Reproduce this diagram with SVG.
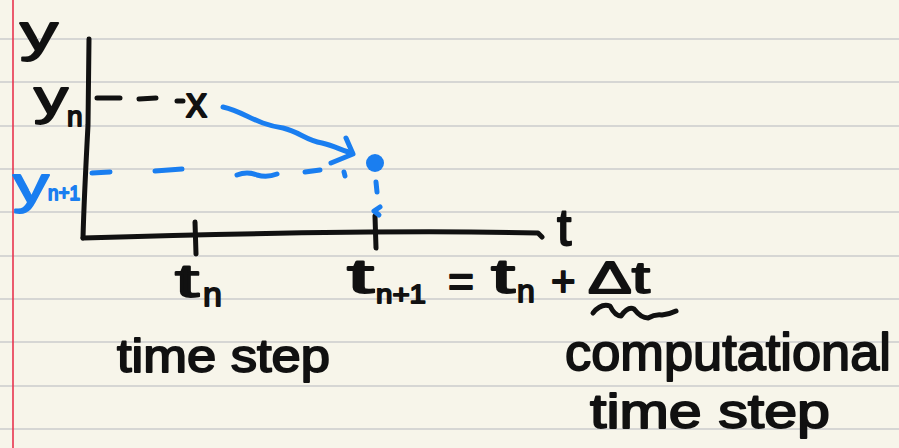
<svg xmlns="http://www.w3.org/2000/svg" width="899" height="448" viewBox="0 0 899 448">
<style>
.rule{stroke:#d6d6d4;stroke-width:2}
.ink{fill:none;stroke:#111;stroke-width:5;stroke-linecap:round;stroke-linejoin:round}
.blue{fill:none;stroke:#1a7ef0;stroke-width:5;stroke-linecap:round;stroke-linejoin:round}
.hw{font-family:"Liberation Sans","Noto Sans",sans-serif;fill:#111;stroke:#111;stroke-width:1.8;stroke-linejoin:round}
.hwb{font-family:"Liberation Sans","Noto Sans",sans-serif;fill:#1a7ef0;stroke:#1a7ef0;stroke-width:1.8;stroke-linejoin:round}
</style>
<rect width="899" height="448" fill="#f7f5ea"/>
<g id="paper">
<line class="rule" x1="0" y1="39" x2="899" y2="39"/>
<line class="rule" x1="0" y1="82" x2="899" y2="82"/>
<line class="rule" x1="0" y1="126" x2="899" y2="126"/>
<line class="rule" x1="0" y1="169" x2="899" y2="169"/>
<line class="rule" x1="0" y1="212" x2="899" y2="212"/>
<line class="rule" x1="0" y1="256" x2="899" y2="256"/>
<line class="rule" x1="0" y1="299" x2="899" y2="299"/>
<line class="rule" x1="0" y1="342" x2="899" y2="342"/>
<line class="rule" x1="0" y1="386" x2="899" y2="386"/>
<line class="rule" x1="0" y1="429" x2="899" y2="429"/>
<line x1="13" y1="0" x2="13" y2="448" stroke="#e8344e" stroke-width="1.6"/>
</g>
<g id="axes">
<path class="ink" d="M89 39 L88 125 Q84 200 83 238"/>
<path class="ink" d="M83 238 C 250 233, 420 230, 538 233 L542 237"/>
<path class="ink" d="M195 222 L196 254"/>
<path class="ink" d="M375 216 L376 248"/>
</g>
<g id="labels-axes">
<text class="hw" x="20" y="50" font-size="52" textLength="38" lengthAdjust="spacingAndGlyphs">y</text>
<text class="hw" x="557" y="245" font-size="52">t</text>
</g>
<g id="yn">
<text class="hw" x="34" y="114" font-size="48" textLength="34" lengthAdjust="spacingAndGlyphs">y</text>
<text class="hw" x="67" y="126" font-size="28">n</text>
<path class="ink" d="M97 98 L120 98 M139 99 L156 98 M177 101 L183 101"/>
<text class="hw" x="186" y="117" font-size="42">x</text>
</g>
<g id="ynp1">
<text class="hwb" x="13" y="202" font-size="52" textLength="36" lengthAdjust="spacingAndGlyphs">y</text>
<text class="hwb" x="48" y="200" font-size="20" textLength="32" lengthAdjust="spacingAndGlyphs">n+1</text>
<path class="blue" d="M92 173 L110 172 M155 171 L182 169 M237 175 Q247 171 257 175 Q267 178 277 174 M305 172 L320 170 M344 172 L345 176"/>
</g>
<g id="arrow">
<path class="blue" stroke-width="6" d="M223 107 C 245 112, 255 124, 283 128 C 300 132, 305 140, 322 143 C 335 146, 343 151, 352 153"/>
<path class="blue" stroke-width="6" d="M346 138 L353 154 L331 163"/>
</g>
<g id="point">
<circle cx="375" cy="163" r="9" fill="#1a7ef0"/>
<path class="blue" stroke-width="3.5" d="M376 182 L377 192 M380 207 L374 211 L379 215"/>
</g>
<g id="tn">
<text class="hw" x="175" y="297" font-size="46" textLength="24" lengthAdjust="spacingAndGlyphs">t</text>
<text class="hw" x="203" y="306" font-size="34">n</text>
<text class="hw" x="117" y="372" font-size="46" textLength="213" lengthAdjust="spacingAndGlyphs">time step</text>
</g>
<g id="equation">
<text class="hw" x="347" y="293" font-size="48" textLength="27" lengthAdjust="spacingAndGlyphs">t</text>
<text class="hw" x="376" y="303" font-size="26" textLength="50" lengthAdjust="spacingAndGlyphs">n+1</text>
<text class="hw" x="448" y="297" font-size="44" textLength="26" lengthAdjust="spacingAndGlyphs">=</text>
<text class="hw" x="491" y="293" font-size="48" textLength="24" lengthAdjust="spacingAndGlyphs">t</text>
<text class="hw" x="517" y="302" font-size="32">n</text>
<text class="hw" x="551" y="296" font-size="42">+</text>
<text class="hw" x="588" y="293" font-size="44" textLength="62" lengthAdjust="spacingAndGlyphs">Δt</text>
<path class="ink" stroke-width="4.5" d="M593 313 Q601 303 610 306 Q615 316 621 316 Q628 306 634 309 Q641 318 648 318 Q655 314 662 315 Q670 314 676 311"/>
</g>
<g id="note">
<text class="hw" x="565" y="370" font-size="52" textLength="326" lengthAdjust="spacingAndGlyphs">computational</text>
<text class="hw" x="590" y="428" font-size="48" textLength="240" lengthAdjust="spacingAndGlyphs">time step</text>
</g>
</svg>
